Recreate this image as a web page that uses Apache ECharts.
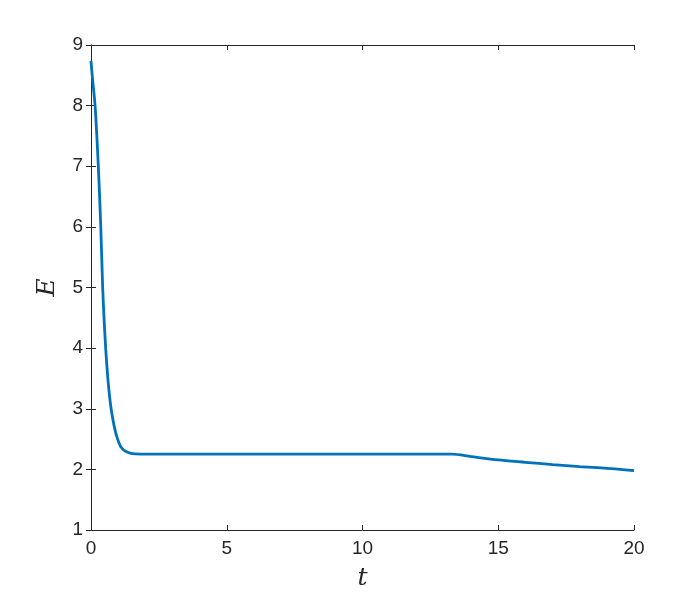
<!DOCTYPE html>
<html>
<head>
<meta charset="utf-8">
<script src="https://cdn.jsdelivr.net/npm/echarts@6/dist/echarts.min.js"></script>
<style>
  html, body { margin: 0; padding: 0; background: #fff; }
  #main { width: 700px; height: 600px; }
</style>
</head>
<body>
<div id="main"></div>
<script>
  // time and energy
  var tValues = [0, 0.05, 0.15, 0.27, 0.36, 0.43, 0.48, 0.54, 0.62, 0.68, 0.74, 0.8, 0.87, 0.95, 1.1, 1.31, 1.62, 3, 6, 10, 13.3, 14, 15, 16, 17, 18, 19, 20];
  var eValues = [8.74, 8.47, 8.0, 7.0, 6.0, 5.0, 4.5, 4.0, 3.5, 3.22, 3.0, 2.84, 2.68, 2.54, 2.37, 2.29, 2.255, 2.25, 2.25, 2.25, 2.25, 2.21, 2.155, 2.117, 2.08, 2.045, 2.018, 1.98];
  var xTicks = [0, 5, 10, 15, 20];
  var yTicks = [1, 2, 3, 4, 5, 6, 7, 8, 9];

  var points = tValues.map(function (t, i) { return [t, eValues[i]]; });

  var tickFont = { fontFamily: 'Liberation Sans, Arial, sans-serif', fontSize: 19, color: '#262626' };
  var nameFont = { fontFamily: 'DejaVu Serif, Liberation Serif, serif', fontStyle: 'italic', fontSize: 25, color: '#262626' };
  var lineStyle = { color: '#262626', width: 1 };

  var chart = echarts.init(document.getElementById('main'));
  var option = {
    animation: false,
    grid: { left: 91, right: 66, top: 45, bottom: 70 },
    xAxis: [
      {
        type: 'value', min: xTicks[0], max: xTicks[xTicks.length - 1], interval: 5,
        name: 't', nameLocation: 'middle', nameGap: 36, nameTextStyle: nameFont,
        axisLine: { show: true, lineStyle: lineStyle },
        axisTick: { inside: true, length: 5, lineStyle: lineStyle },
        axisLabel: Object.assign({ margin: 9 }, tickFont),
        splitLine: { show: false }
      },
      {
        type: 'value', position: 'top', min: 0, max: 20, interval: 5,
        axisLine: { show: true, lineStyle: lineStyle },
        axisTick: { inside: true, length: 5, lineStyle: lineStyle },
        axisLabel: { show: false },
        splitLine: { show: false }
      }
    ],
    yAxis: [
      {
        type: 'value', min: yTicks[0], max: yTicks[yTicks.length - 1], interval: 1,
        name: 'E', nameLocation: 'middle', nameGap: 31, nameRotate: 90, nameTextStyle: nameFont,
        axisLine: { show: true, lineStyle: lineStyle },
        axisTick: { inside: true, length: 5, lineStyle: lineStyle },
        axisLabel: Object.assign({ margin: 8 }, tickFont),
        splitLine: { show: false }
      },
      {
        type: 'value', position: 'right', min: 1, max: 9, interval: 1,
        axisLine: { show: true, lineStyle: lineStyle },
        axisTick: { inside: true, length: 5, lineStyle: lineStyle },
        axisLabel: { show: false },
        splitLine: { show: false }
      }
    ],
    series: [
      {
        type: 'line',
        data: points,
        smooth: 0.3,
        symbol: 'none',
        lineStyle: { color: '#0072BD', width: 2.8 }
      }
    ]
  };
  chart.setOption(option);
</script>
</body>
</html>
